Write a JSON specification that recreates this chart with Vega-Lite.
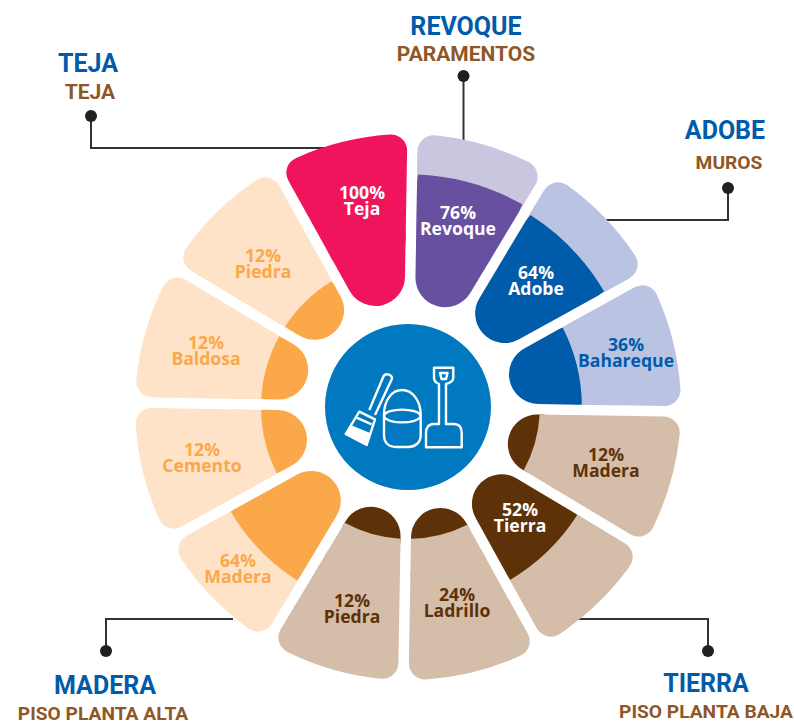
{"$schema":"https://vega.github.io/schema/vega-lite/v6.json","width":794,"height":725,"padding":0,"autosize":"none","background":"white","config":{"view":{"stroke":null},"legend":{"disable":true},"axis":{"disable":true}},
"datasets":{
"seg":[
{"nombre":"Revoque","pct":76,"nivel":76,"tope":91,"cubre":92,"base":0,"corte":28,"techo":100,"ini":0,"fin":30,"grupo":"Paramentos","fondo":"Paramentos claro"},
{"nombre":"Adobe","pct":64,"nivel":73,"tope":88,"cubre":89,"base":0,"corte":28,"techo":100,"ini":30,"fin":60,"grupo":"Muros","fondo":"Muros claro"},
{"nombre":"Bahareque","pct":36,"nivel":41,"tope":59,"cubre":60,"base":0,"corte":28,"techo":100,"ini":60,"fin":90,"grupo":"Muros","fondo":"Muros claro"},
{"nombre":"Madera","pct":12,"nivel":16,"tope":38,"cubre":39,"base":0,"corte":28,"techo":100,"ini":90,"fin":120,"grupo":"Baja","fondo":"Baja claro"},
{"nombre":"Tierra","pct":52,"nivel":57,"tope":75,"cubre":76,"base":0,"corte":28,"techo":100,"ini":120,"fin":150,"grupo":"Baja","fondo":"Baja claro"},
{"nombre":"Ladrillo","pct":24,"nivel":16,"tope":38,"cubre":39,"base":0,"corte":28,"techo":100,"ini":150,"fin":180,"grupo":"Baja","fondo":"Baja claro"},
{"nombre":"Piedra","pct":12,"nivel":16,"tope":38,"cubre":39,"base":0,"corte":28,"techo":100,"ini":180,"fin":210,"grupo":"Baja","fondo":"Baja claro"},
{"nombre":"Madera","pct":64,"nivel":60,"tope":78,"cubre":79,"base":0,"corte":28,"techo":100,"ini":210,"fin":240,"grupo":"Alta","fondo":"Alta claro"},
{"nombre":"Cemento","pct":12,"nivel":25,"tope":43,"cubre":44,"base":0,"corte":28,"techo":100,"ini":240,"fin":270,"grupo":"Alta","fondo":"Alta claro"},
{"nombre":"Baldosa","pct":12,"nivel":25,"tope":43,"cubre":44,"base":0,"corte":28,"techo":100,"ini":270,"fin":300,"grupo":"Alta","fondo":"Alta claro"},
{"nombre":"Piedra","pct":12,"nivel":25,"tope":43,"cubre":44,"base":0,"corte":28,"techo":100,"ini":300,"fin":330,"grupo":"Alta","fondo":"Alta claro"},
{"nombre":"Teja","pct":100,"nivel":100,"tope":60,"cubre":60,"base":0,"corte":28,"techo":100,"ini":330,"fin":360,"grupo":"Teja","fondo":"Teja"}],
"lab":[
{"t":"100%\nTeja","x":362,"y":199,"tono":"Blanco"},
{"t":"76%\nRevoque","x":458,"y":219,"tono":"Blanco"},
{"t":"64%\nAdobe","x":536,"y":279,"tono":"Blanco"},
{"t":"36%\nBahareque","x":626,"y":351,"tono":"Muros"},
{"t":"12%\nMadera","x":606,"y":461,"tono":"Baja"},
{"t":"52%\nTierra","x":520,"y":516,"tono":"Blanco"},
{"t":"24%\nLadrillo","x":457,"y":601,"tono":"Baja"},
{"t":"12%\nPiedra","x":352,"y":607,"tono":"Baja"},
{"t":"64%\nMadera","x":238,"y":567,"tono":"Alta"},
{"t":"12%\nCemento","x":202,"y":456,"tono":"Alta"},
{"t":"12%\nBaldosa","x":206,"y":349,"tono":"Alta"},
{"t":"12%\nPiedra","x":263,"y":262,"tono":"Alta"}],
"tit":[
{"t":"TEJA","x":88,"y":72},{"t":"REVOQUE","x":466,"y":35},{"t":"ADOBE","x":725,"y":139},{"t":"TIERRA","x":706,"y":692},{"t":"MADERA","x":105,"y":694}],
"sub":[
{"t":"TEJA","x":90,"y":99},{"t":"PARAMENTOS","x":466,"y":61}],
"sub2":[
{"t":"MUROS","x":729,"y":169},{"t":"PISO PLANTA BAJA","x":706,"y":718},{"t":"PISO PLANTA ALTA","x":103,"y":720}],
"lead":[
{"s":"a","o":1,"x":91,"y":116},{"s":"a","o":2,"x":91,"y":148},{"s":"a","o":3,"x":330,"y":148},
{"s":"b","o":1,"x":463.5,"y":76},{"s":"b","o":2,"x":463.5,"y":145},
{"s":"c","o":1,"x":728,"y":188},{"s":"c","o":2,"x":728,"y":220},{"s":"c","o":3,"x":600,"y":220},
{"s":"d","o":1,"x":708,"y":651},{"s":"d","o":2,"x":708,"y":619},{"s":"d","o":3,"x":575,"y":619},
{"s":"e","o":1,"x":106,"y":651},{"s":"e","o":2,"x":106,"y":619},{"s":"e","o":3,"x":233,"y":619}],
"uno":[{"c":"icono","cx":408,"cy":407}]},
"layer":[
{"data":{"name":"lead"},"mark":{"type":"line","color":"#333132","strokeWidth":2,"strokeJoin":"miter"},"encoding":{"x":{"field":"x","type":"quantitative","scale":{"domain":[0,794],"range":[0,794],"nice":false}},"y":{"field":"y","type":"quantitative","scale":{"domain":[0,725],"range":[0,725],"nice":false}},"detail":{"field":"s"},"order":{"field":"o"}}},
{"data":{"name":"lead"},"transform":[{"filter":{"field":"o","equal":1}}],"mark":{"type":"circle","size":144,"color":"#231F20","opacity":1},"encoding":{"x":{"field":"x","type":"quantitative"},"y":{"field":"y","type":"quantitative"}}},
{"data":{"name":"seg"},"transform":[{"filter":{"field":"nivel","equal":100}}],"mark":{"type":"arc","cornerRadius":30,"padAngle":0.04545,"xOffset":11,"yOffset":44.5},"encoding":{"theta":{"field":"ini","type":"quantitative","scale":{"domain":[0,360],"range":[0.017,6.3002]}},"theta2":{"field":"fin"},"radius":{"field":"tope","type":"quantitative","scale":{"type":"linear","domain":[0,100],"range":[105,273]}},"radius2":{"field":"base"},"color":{"field":"grupo","type":"nominal","scale":{"domain":["Teja","Paramentos","Paramentos claro","Muros","Muros claro","Baja","Baja claro","Alta","Alta claro","Blanco"],"range":["#EF145B","#67509F","#CBC6E0","#005BAA","#BAC4E2","#5E3208","#D4BDA9","#FBA84B","#FEE3C9","#FFFFFF"]}}}},
{"data":{"name":"seg"},"mark":{"type":"arc","cornerRadius":16,"padAngle":0.0336,"xOffset":11,"yOffset":44.5},"encoding":{"theta":{"field":"ini","type":"quantitative"},"theta2":{"field":"fin"},"radius":{"field":"techo","type":"quantitative"},"radius2":{"field":"corte"},"color":{"field":"fondo","type":"nominal"}}},
{"data":{"name":"seg"},"transform":[{"filter":{"field":"nivel","equal":76}}],"mark":{"type":"arc","cornerRadius":30,"padAngle":0.0377,"xOffset":11,"yOffset":44.5},"encoding":{"theta":{"field":"ini","type":"quantitative"},"theta2":{"field":"fin"},"radius":{"field":"tope","type":"quantitative"},"radius2":{"field":"base"},"color":{"field":"grupo","type":"nominal"}}},
{"data":{"name":"seg"},"transform":[{"filter":{"field":"nivel","equal":76}}],"mark":{"type":"arc","padAngle":0.03012,"xOffset":11,"yOffset":44.5},"encoding":{"theta":{"field":"ini","type":"quantitative"},"theta2":{"field":"fin"},"radius":{"field":"cubre","type":"quantitative"},"radius2":{"field":"nivel"},"color":{"field":"fondo","type":"nominal"}}},
{"data":{"name":"seg"},"transform":[{"filter":{"field":"nivel","equal":73}}],"mark":{"type":"arc","cornerRadius":30,"padAngle":0.03836,"xOffset":11,"yOffset":44.5},"encoding":{"theta":{"field":"ini","type":"quantitative"},"theta2":{"field":"fin"},"radius":{"field":"tope","type":"quantitative"},"radius2":{"field":"base"},"color":{"field":"grupo","type":"nominal"}}},
{"data":{"name":"seg"},"transform":[{"filter":{"field":"nivel","equal":73}}],"mark":{"type":"arc","padAngle":0.03076,"xOffset":11,"yOffset":44.5},"encoding":{"theta":{"field":"ini","type":"quantitative"},"theta2":{"field":"fin"},"radius":{"field":"cubre","type":"quantitative"},"radius2":{"field":"nivel"},"color":{"field":"fondo","type":"nominal"}}},
{"data":{"name":"seg"},"transform":[{"filter":{"field":"nivel","equal":60}}],"mark":{"type":"arc","cornerRadius":30,"padAngle":0.04065,"xOffset":11,"yOffset":44.5},"encoding":{"theta":{"field":"ini","type":"quantitative"},"theta2":{"field":"fin"},"radius":{"field":"tope","type":"quantitative"},"radius2":{"field":"base"},"color":{"field":"grupo","type":"nominal"}}},
{"data":{"name":"seg"},"transform":[{"filter":{"field":"nivel","equal":60}}],"mark":{"type":"arc","padAngle":0.0334,"xOffset":11,"yOffset":44.5},"encoding":{"theta":{"field":"ini","type":"quantitative"},"theta2":{"field":"fin"},"radius":{"field":"cubre","type":"quantitative"},"radius2":{"field":"nivel"},"color":{"field":"fondo","type":"nominal"}}},
{"data":{"name":"seg"},"transform":[{"filter":{"field":"nivel","equal":57}}],"mark":{"type":"arc","cornerRadius":30,"padAngle":0.04139,"xOffset":11,"yOffset":44.5},"encoding":{"theta":{"field":"ini","type":"quantitative"},"theta2":{"field":"fin"},"radius":{"field":"tope","type":"quantitative"},"radius2":{"field":"base"},"color":{"field":"grupo","type":"nominal"}}},
{"data":{"name":"seg"},"transform":[{"filter":{"field":"nivel","equal":57}}],"mark":{"type":"arc","padAngle":0.03416,"xOffset":11,"yOffset":44.5},"encoding":{"theta":{"field":"ini","type":"quantitative"},"theta2":{"field":"fin"},"radius":{"field":"cubre","type":"quantitative"},"radius2":{"field":"nivel"},"color":{"field":"fondo","type":"nominal"}}},
{"data":{"name":"seg"},"transform":[{"filter":{"field":"nivel","equal":41}}],"mark":{"type":"arc","cornerRadius":30,"padAngle":0.04575,"xOffset":11,"yOffset":44.5},"encoding":{"theta":{"field":"ini","type":"quantitative"},"theta2":{"field":"fin"},"radius":{"field":"tope","type":"quantitative"},"radius2":{"field":"base"},"color":{"field":"grupo","type":"nominal"}}},
{"data":{"name":"seg"},"transform":[{"filter":{"field":"nivel","equal":41}}],"mark":{"type":"arc","padAngle":0.03898,"xOffset":11,"yOffset":44.5},"encoding":{"theta":{"field":"ini","type":"quantitative"},"theta2":{"field":"fin"},"radius":{"field":"cubre","type":"quantitative"},"radius2":{"field":"nivel"},"color":{"field":"fondo","type":"nominal"}}},
{"data":{"name":"seg"},"transform":[{"filter":{"field":"nivel","equal":25}}],"mark":{"type":"arc","cornerRadius":30,"padAngle":0.05097,"xOffset":11,"yOffset":44.5},"encoding":{"theta":{"field":"ini","type":"quantitative"},"theta2":{"field":"fin"},"radius":{"field":"tope","type":"quantitative"},"radius2":{"field":"base"},"color":{"field":"grupo","type":"nominal"}}},
{"data":{"name":"seg"},"transform":[{"filter":{"field":"nivel","equal":25}}],"mark":{"type":"arc","padAngle":0.04536,"xOffset":11,"yOffset":44.5},"encoding":{"theta":{"field":"ini","type":"quantitative"},"theta2":{"field":"fin"},"radius":{"field":"cubre","type":"quantitative"},"radius2":{"field":"nivel"},"color":{"field":"fondo","type":"nominal"}}},
{"data":{"name":"seg"},"transform":[{"filter":{"field":"nivel","equal":16}}],"mark":{"type":"arc","cornerRadius":30,"padAngle":0.0528,"xOffset":11,"yOffset":44.5},"encoding":{"theta":{"field":"ini","type":"quantitative"},"theta2":{"field":"fin"},"radius":{"field":"tope","type":"quantitative"},"radius2":{"field":"base"},"color":{"field":"grupo","type":"nominal"}}},
{"data":{"name":"seg"},"transform":[{"filter":{"field":"nivel","equal":16}}],"mark":{"type":"arc","padAngle":0.0487,"xOffset":11,"yOffset":44.5},"encoding":{"theta":{"field":"ini","type":"quantitative"},"theta2":{"field":"fin"},"radius":{"field":"cubre","type":"quantitative"},"radius2":{"field":"nivel"},"color":{"field":"fondo","type":"nominal"}}},
{"data":{"name":"uno"},"mark":{"type":"circle","size":27556,"color":"#0079C1","opacity":1},"encoding":{"x":{"field":"cx","type":"quantitative"},"y":{"field":"cy","type":"quantitative"}}},
{"data":{"name":"uno"},"mark":{"type":"point","filled":false,"size":4,"opacity":1,"stroke":"white","strokeWidth":2.4,"strokeJoin":"round","shape":"M-24 8C-24 -7 -16 -17 -6 -17C4 -17 12.7 -7 12.7 8L12.7 28C12.7 36 7 40 0 40L-12 40C-19 40 -24 36 -24 28ZM-24 9C-22 .5 10 .5 12.7 9C10 17.5 -22 17.5 -24 9M-38.7 3L-24.7 -30.3C-22.5 -35 -14.5 -32 -16.3 -27.7L-33 8M-48.7 4.7L-33 12.3L-41.3 38L-62.3 27ZM-52 10.3L-36.3 17.3M26 -39.3L45.3 -39.3L45.3 -29Q45.3 -25 38 -23L38 17L46 17Q53.7 17 53.7 26L53.7 40.3L18 40.3L18 26Q18 17 26 17L31 17L31 -23Q26 -25 26 -29ZM32 -34L39.5 -34L38 -28L33.5 -28Z"},"encoding":{"x":{"field":"cx","type":"quantitative"},"y":{"field":"cy","type":"quantitative"}}},
{"data":{"name":"uno"},"mark":{"type":"point","filled":true,"size":4,"opacity":1,"fill":"white","shape":"M-57.3 18L-37.3 26.3L-41.3 38L-62.3 27Z"},"encoding":{"x":{"field":"cx","type":"quantitative"},"y":{"field":"cy","type":"quantitative"}}},
{"data":{"name":"lab"},"mark":{"type":"text","font":"Open Sans","fontWeight":700,"fontSize":17.6,"lineHeight":16,"lineBreak":"\n","align":"center","baseline":"alphabetic"},"encoding":{"x":{"field":"x","type":"quantitative"},"y":{"field":"y","type":"quantitative"},"text":{"field":"t"},"color":{"field":"tono","type":"nominal"}}},
{"data":{"name":"tit"},"mark":{"type":"text","font":"Roboto","fontWeight":700,"fontSize":25,"align":"center","baseline":"alphabetic","color":"#005BAA"},"encoding":{"x":{"field":"x","type":"quantitative"},"y":{"field":"y","type":"quantitative"},"text":{"field":"t"}}},
{"data":{"name":"sub"},"mark":{"type":"text","font":"Roboto","fontWeight":700,"fontSize":21,"align":"center","baseline":"alphabetic","color":"#8F5726"},"encoding":{"x":{"field":"x","type":"quantitative"},"y":{"field":"y","type":"quantitative"},"text":{"field":"t"}}},
{"data":{"name":"sub2"},"mark":{"type":"text","font":"Roboto","fontWeight":700,"fontSize":19.2,"align":"center","baseline":"alphabetic","color":"#8F5726"},"encoding":{"x":{"field":"x","type":"quantitative"},"y":{"field":"y","type":"quantitative"},"text":{"field":"t"}}}
]}
